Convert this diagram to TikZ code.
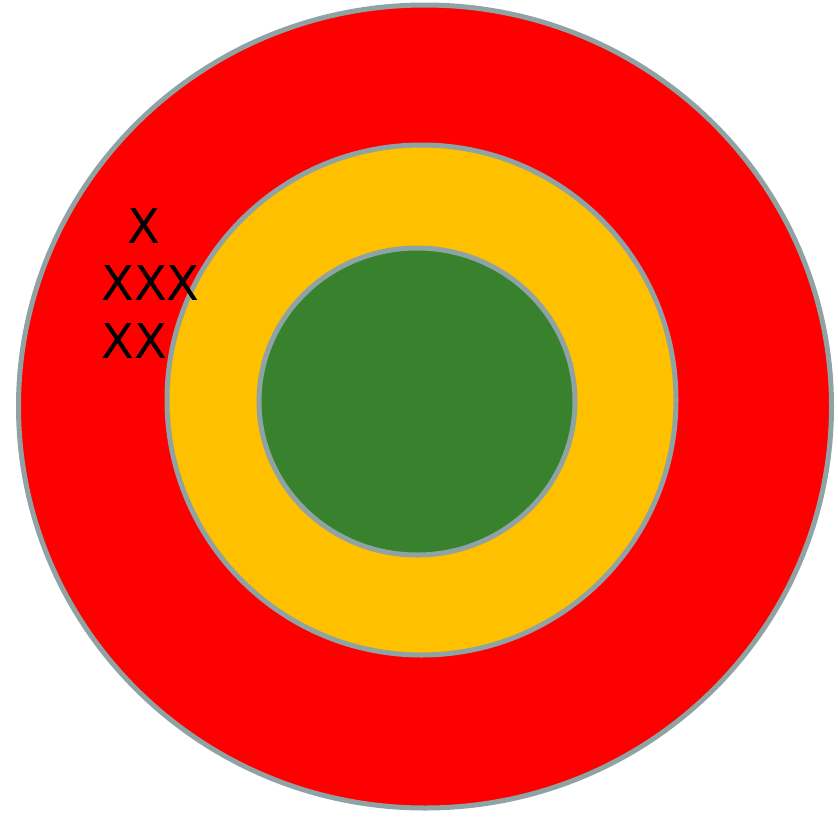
\documentclass[tikz,border=0pt]{standalone}
\usepackage{fontspec}
\setmainfont{DejaVu Sans}
\usepackage{xcolor}
\usepackage{tikz}
\usetikzlibrary{positioning}

\definecolor{ringred}{HTML}{FF0000}
\definecolor{ringyellow}{HTML}{FFC000}
\definecolor{ringgreen}{HTML}{38822E}
\definecolor{ringedge}{HTML}{8FA3A5}

\begin{document}
\begin{tikzpicture}[
    x=1pt, y=-1pt,
    ring/.style={draw=ringedge, line width=5pt},
    mark label/.style={anchor=base west, inner sep=0pt, font=\fontsize{48}{57}\selectfont, text=black}
]
    \useasboundingbox (0,0) rectangle (838,817);
    % rings
    \filldraw[ring, fill=ringred] (425,406.5) ellipse [x radius=406.5, y radius=401.5];
    \filldraw[ring, fill=ringyellow] (421.5,400) ellipse [x radius=254.5, y radius=255];
    \filldraw[ring, fill=ringgreen] (417,401.5) ellipse [x radius=158, y radius=153.5];
    % labels
    \node[mark label] (one) at (127,243) {X};
    \node[mark label] (three) at (101,300) {XXX};
    \node[mark label] (two) at (101,358) {XX};
\end{tikzpicture}
\end{document}
